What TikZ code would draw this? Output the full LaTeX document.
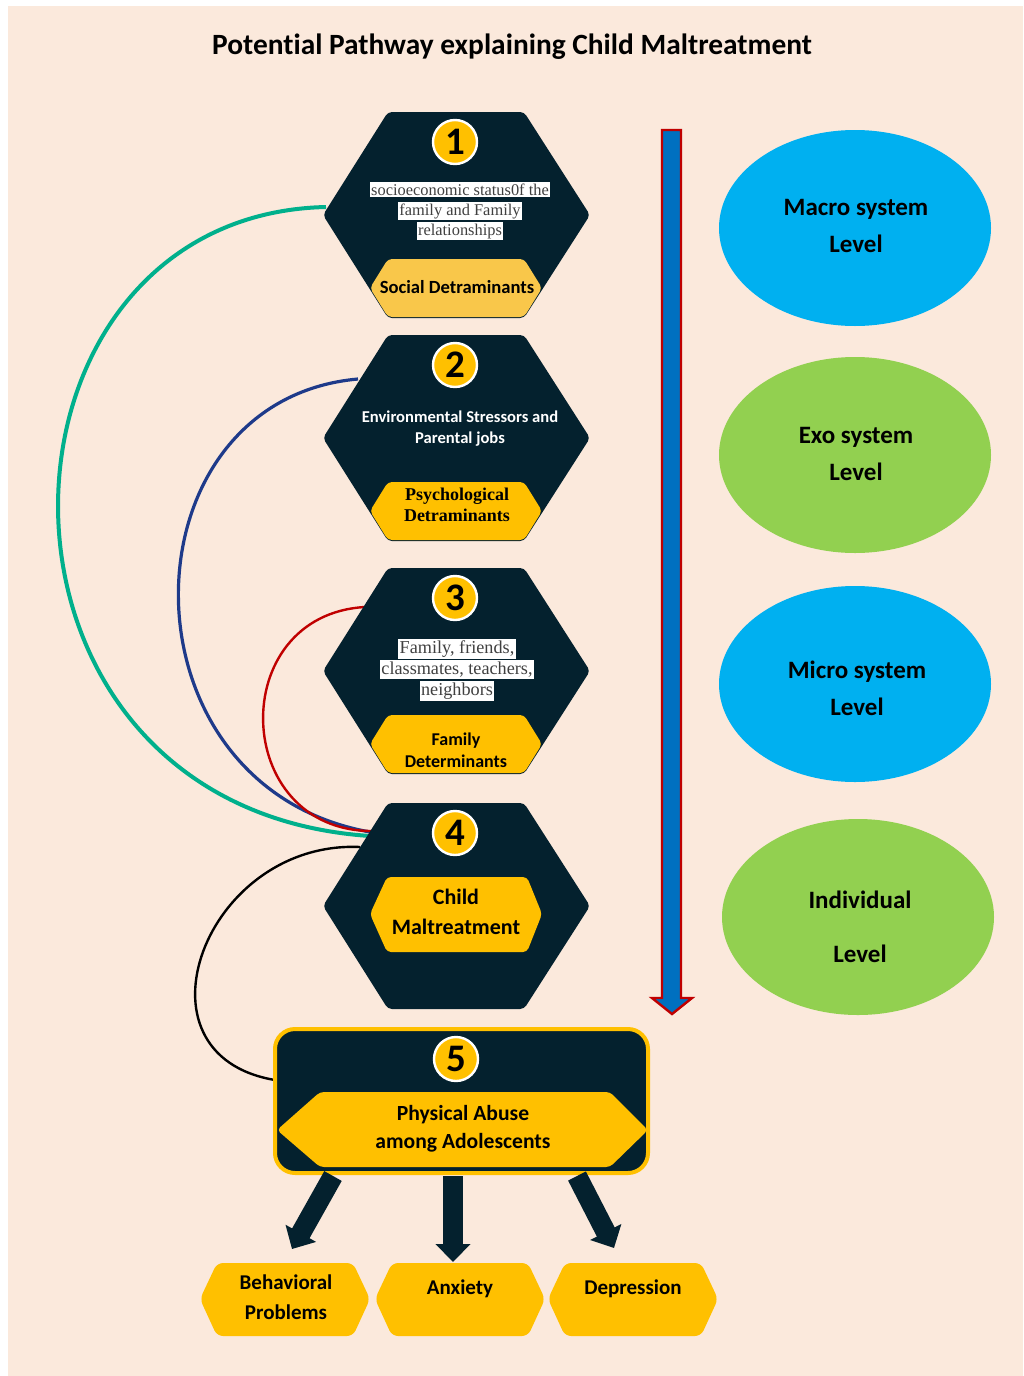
\documentclass[tikz,border=0pt]{standalone}
\usepackage{fontspec}
\setmainfont{Carlito}[Ligatures=NoCommon]
\newfontfamily\timesfont{Liberation Serif}
\usetikzlibrary{shapes.geometric, arrows.meta, positioning}
\definecolor{PeachBg}{RGB}{251,233,220}
\definecolor{HexNavy}{RGB}{4,33,46}
\definecolor{GoldFill}{RGB}{255,192,0}
\definecolor{SoftGold}{RGB}{249,199,74}
\definecolor{SkyBlue}{RGB}{0,176,240}
\definecolor{LeafGreen}{RGB}{146,208,80}
\definecolor{LevelBlue}{RGB}{0,112,192}
\definecolor{LevelRed}{RGB}{192,0,0}
\definecolor{TealLink}{RGB}{0,176,140}
\definecolor{NavyLink}{RGB}{30,58,138}
\definecolor{InkGray}{RGB}{64,64,64}
\setlength{\fboxsep}{0.7pt}

\tikzset{
  numdot/.style={circle, fill=GoldFill, draw=white, line width=1.2pt, minimum size=22pt, inner sep=0pt, font=\fontsize{19.5}{19.5}\selectfont\bfseries},
  papertext/.style={align=center, text=InkGray, font=\timesfont\fontsize{8.2}{10}\selectfont},
  goldtext/.style={align=center, font=\fontsize{9}{11}\selectfont\bfseries},
  levelblob/.style={ellipse, minimum width=136pt, minimum height=98pt, inner sep=0pt},
  leveltext/.style={align=center, font=\fontsize{12.5}{18.5}\selectfont\bfseries},
  downarrow/.style={HexNavy, line width=10pt, -{Triangle[width=17pt, length=9pt]}}
}

\begin{document}
\begin{tikzpicture}[x=0.5pt, y=-0.5pt]
  \useasboundingbox (0,0) rectangle (1023,1376);
  \fill[white] (0,0) rectangle (1023,1376);
  \fill[PeachBg] (8,6) rectangle (1023,1376);

  % Title
  \node[font=\fontsize{14.7}{16}\selectfont\bfseries] (title) at (512,47) {Potential Pathway explaining Child Maltreatment};

  % Links ending on the child maltreatment hexagon
  \coordinate (h1w) at (326,207);
  \coordinate (h2w) at (358,379);
  \coordinate (h3w) at (365,607);
  \coordinate (h4a) at (370,836);
  \coordinate (h4b) at (370,832);
  \coordinate (h4c) at (372,831);
  \coordinate (h4d) at (360,847);
  \coordinate (b5w) at (275,1080);
  \draw[TealLink, line width=2pt] (h1w) .. controls (-30,215) and (-47,808) .. (h4a);
  \draw[NavyLink, line width=1.6pt] (h2w) .. controls (120,400) and (113,786) .. (h4b);
  \draw[LevelRed, line width=1.2pt] (h3w) .. controls (225,615) and (231,831) .. (h4c);
  \draw[black, line width=1.2pt] (h4d) .. controls (205,840) and (125,1055) .. (b5w);

  % Dark hexagons with number badges
  \foreach \cy/\n in {215/1, 438/2, 671/3, 906/4} {
    \fill[HexNavy, rounded corners=2pt] (388,\cy-103) -- (524,\cy-103) -- (590,\cy) -- (524,\cy+103) -- (388,\cy+103) -- (323,\cy) -- cycle;
    \node[numdot] (num\n) at (455,\cy-73) {\n};
  }

  % Yellow labels inside hexagons
  \fill[SoftGold, rounded corners=2pt] (388,259) -- (524,259) -- (542,288) -- (524,317) -- (388,317) -- (370,288) -- cycle;
  \foreach \cy in {438, 671} {
    \fill[GoldFill, rounded corners=2pt] (388,\cy+44) -- (524,\cy+44) -- (542,\cy+73) -- (524,\cy+102) -- (388,\cy+102) -- (370,\cy+73) -- cycle;
  }
  \fill[GoldFill, rounded corners=2pt] (387,877) -- (527,877) -- (542,914) -- (527,952) -- (387,952) -- (370,914) -- cycle;

  \node[papertext] (social) at (460,211) {\colorbox{white}{socioeconomic status0f the}\\\colorbox{white}{family and Family}\\\colorbox{white}{relationships}};
  \node[goldtext, font=\fontsize{9.3}{11}\selectfont\bfseries] (socialdet) at (457,287) {Social Detraminants};

  \node[align=center, text=white, font=\fontsize{8.3}{10.5}\selectfont\bfseries] (envir) at (460,429) {Environmental Stressors and\\Parental jobs};
  \node[goldtext, font=\timesfont\fontsize{9}{10.5}\selectfont\bfseries] (psydet) at (457,505) {Psychological\\Detraminants};

  \node[papertext, font=\timesfont\fontsize{9.1}{10.5}\selectfont] (circle3) at (457,670) {\colorbox{white}{Family, friends,}\\\colorbox{white}{classmates, teachers,}\\\colorbox{white}{neighbors}};
  \node[goldtext] (famdet) at (456,750) {Family\\Determinants};

  \node[goldtext, font=\fontsize{11}{15}\selectfont\bfseries] (childmal) at (456,912) {Child\\Maltreatment};

  % Outcome box
  \draw[fill=HexNavy, draw=GoldFill, line width=2pt, rounded corners=10pt] (275,1029) rectangle (648,1173);
  \fill[GoldFill, rounded corners=2pt] (320,1092) -- (610,1092) -- (648,1130) -- (610,1167) -- (320,1167) -- (277,1130) -- cycle;
  \node[numdot] (num5) at (456,1059) {5};
  \node[goldtext, font=\fontsize{10.8}{14}\selectfont\bfseries] (abuse) at (463,1129) {Physical Abuse\\among Adolescents};

  % Consequences
  \foreach \cx in {285, 460, 633} {
    \fill[GoldFill, rounded corners=3pt] (\cx-68,1263) -- (\cx+68,1263) -- (\cx+85,1299) -- (\cx+68,1336) -- (\cx-68,1336) -- (\cx-85,1299) -- cycle;
  }
  \node[goldtext, font=\fontsize{10.5}{15}\selectfont\bfseries] (behav) at (286,1297) {Behavioral\\Problems};
  \node[goldtext, font=\fontsize{10.5}{15}\selectfont\bfseries] (anx) at (460,1289) {Anxiety};
  \node[goldtext, font=\fontsize{10.5}{15}\selectfont\bfseries] (dep) at (633,1289) {Depression};

  \coordinate (b5s1) at (333,1176);
  \coordinate (b5s2) at (453,1176);
  \coordinate (b5s3) at (577,1176);
  \coordinate (behavtop) at (292,1249);
  \coordinate (anxtop) at (453,1262);
  \coordinate (deptop) at (614,1248);
  \draw[downarrow] (b5s1) -- (behavtop);
  \draw[downarrow] (b5s2) -- (anxtop);
  \draw[downarrow] (b5s3) -- (deptop);

  % Level arrow
  \filldraw[fill=LevelBlue, draw=LevelRed, line width=1.2pt] (662,130) -- (681,130) -- (681,998) -- (692,998) -- (672,1014) -- (652,998) -- (662,998) -- cycle;

  % System levels
  \node[levelblob, fill=SkyBlue] (macro) at (855,228) {};
  \node[levelblob, fill=LeafGreen] (exo) at (855,455) {};
  \node[levelblob, fill=SkyBlue] (micro) at (855,684) {};
  \node[levelblob, fill=LeafGreen] (indiv) at (858,917) {};
  \node[leveltext] (macrotxt) at (856,226) {Macro system\\Level};
  \node[leveltext] (exotxt) at (856,454) {Exo system\\Level};
  \node[leveltext] (microtxt) at (857,688) {Micro system\\Level};
  \node[leveltext] (indivtxt) at (860,927) {Individual\\[8.5pt]Level};
\end{tikzpicture}
\end{document}
